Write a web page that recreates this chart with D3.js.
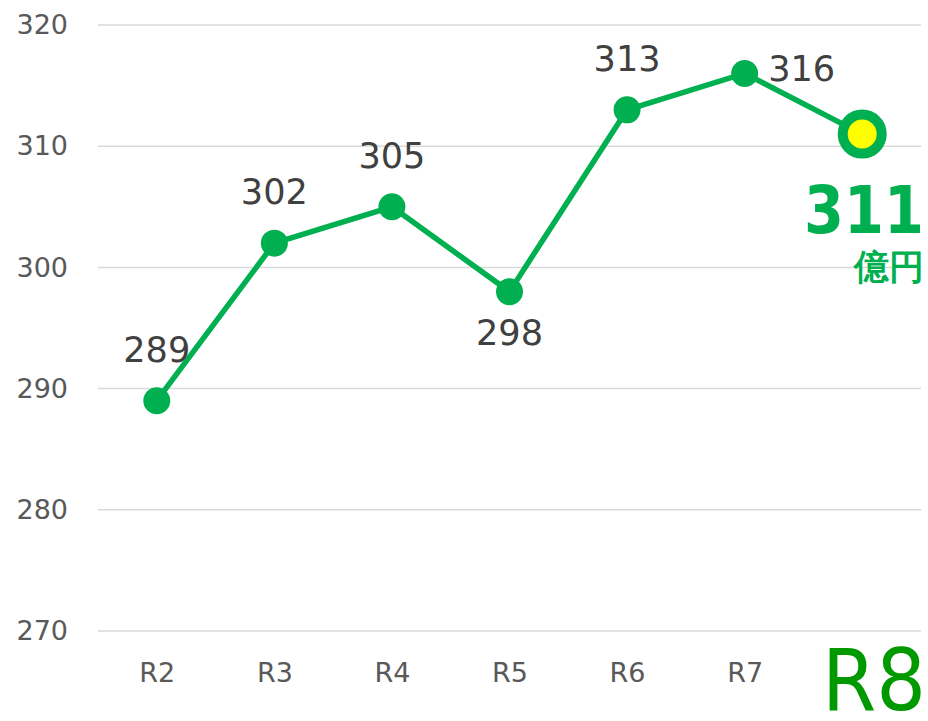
<!DOCTYPE html>
<html>
<head>
<meta charset="UTF-8">
<script src="https://cdn.jsdelivr.net/npm/d3@7"></script>
<style>
  body { margin: 0; background: #fff; }
  text { font-family: "DejaVu Sans", Verdana, sans-serif; }
</style>
</head>
<body>
<svg id="chart"></svg>
<script>
// data
var years = ["R2", "R3", "R4", "R5", "R6", "R7", "R8"];
var values = [289, 302, 305, 298, 313, 316, 311];
var yTicks = [270, 280, 290, 300, 310, 320];
// where each data label sits relative to its point
var labelPos = ["top", "top", "top", "bottom", "top", "right", "none"];

var width = 928, height = 721;
var margin = { top: 25, right: 7, bottom: 90, left: 98 };

var svg = d3.select("#chart")
  .attr("width", width)
  .attr("height", height);

var x = d3.scalePoint()
  .domain(years)
  .range([margin.left, width - margin.right])
  .padding(0.5);

var y = d3.scaleLinear()
  .domain([270, 320])
  .range([height - margin.bottom, margin.top]);

// gridlines
svg.append("g")
  .selectAll("line")
  .data(yTicks)
  .enter().append("line")
  .attr("x1", margin.left)
  .attr("x2", width - margin.right)
  .attr("y1", function(d) { return y(d); })
  .attr("y2", function(d) { return y(d); })
  .attr("stroke", "#d9d9d9")
  .attr("stroke-width", 1.5);

// y axis labels
var yAxis = d3.axisLeft(y).tickValues(yTicks).tickSize(0).tickPadding(0);
svg.append("g")
  .attr("transform", "translate(68,0)")
  .call(yAxis)
  .call(function(g) { g.select(".domain").remove(); })
  .selectAll("text")
  .attr("font-size", 27)
  .attr("font-family", "DejaVu Sans")
  .attr("fill", "#595959");

// x axis labels (last one is drawn separately, large)
var xAxis = d3.axisBottom(x).tickSize(0).tickPadding(0);
svg.append("g")
  .attr("transform", "translate(0,663)")
  .call(xAxis)
  .call(function(g) { g.select(".domain").remove(); })
  .selectAll("text")
  .attr("font-size", 27)
  .attr("font-family", "DejaVu Sans")
  .attr("fill", "#595959")
  .attr("opacity", function(d, i) { return i === years.length - 1 ? 0 : 1; });

svg.append("text")
  .attr("x", 926)
  .attr("y", 710)
  .attr("text-anchor", "end")
  .attr("font-size", 86)
  .attr("textLength", 104)
  .attr("lengthAdjust", "spacingAndGlyphs")
  .attr("fill", "#009900")
  .text(years[years.length - 1]);

// line
var line = d3.line()
  .x(function(d, i) { return x(years[i]); })
  .y(function(d) { return y(d); });

svg.append("path")
  .datum(values)
  .attr("d", line)
  .attr("fill", "none")
  .attr("stroke", "#00b050")
  .attr("stroke-width", 5.5);

// markers
svg.append("g")
  .selectAll("circle")
  .data(values.slice(0, -1))
  .enter().append("circle")
  .attr("cx", function(d, i) { return x(years[i]); })
  .attr("cy", function(d) { return y(d); })
  .attr("r", 13.5)
  .attr("fill", "#00b050");

// highlighted last point
var last = values.length - 1;
svg.append("circle")
  .attr("cx", x(years[last]))
  .attr("cy", y(values[last]))
  .attr("r", 19.5)
  .attr("fill", "#ffff00")
  .attr("stroke", "#00b050")
  .attr("stroke-width", 10);

// data labels
svg.append("g")
  .selectAll("text")
  .data(values)
  .enter().append("text")
  .filter(function(d, i) { return labelPos[i] !== "none"; })
  .attr("x", function(d, i) {
    var px = x(years[i]);
    return labelPos[i] === "right" ? px + 57 : px;
  })
  .attr("y", function(d, i) {
    var py = y(d);
    if (labelPos[i] === "top") return py - 39;
    if (labelPos[i] === "bottom") return py + 53;
    return py + 8;
  })
  .attr("text-anchor", "middle")
  .attr("font-size", 36)
  .attr("textLength", 67)
  .attr("lengthAdjust", "spacingAndGlyphs")
  .attr("fill", "#404040")
  .text(function(d) { return d; });

// callout for the latest value
svg.append("text")
  .attr("x", 924)
  .attr("y", 233)
  .attr("text-anchor", "end")
  .attr("font-size", 66)
  .attr("font-weight", "bold")
  .attr("textLength", 120)
  .attr("lengthAdjust", "spacingAndGlyphs")
  .attr("fill", "#00b050")
  .text(values[last]);

svg.append("text")
  .attr("x", 924)
  .attr("y", 279)
  .attr("text-anchor", "end")
  .attr("font-size", 35)
  .attr("font-weight", "bold")
  .attr("font-family", "Noto Sans CJK JP")
  .attr("fill", "#00b050")
  .text("億円");
</script>
</body>
</html>
